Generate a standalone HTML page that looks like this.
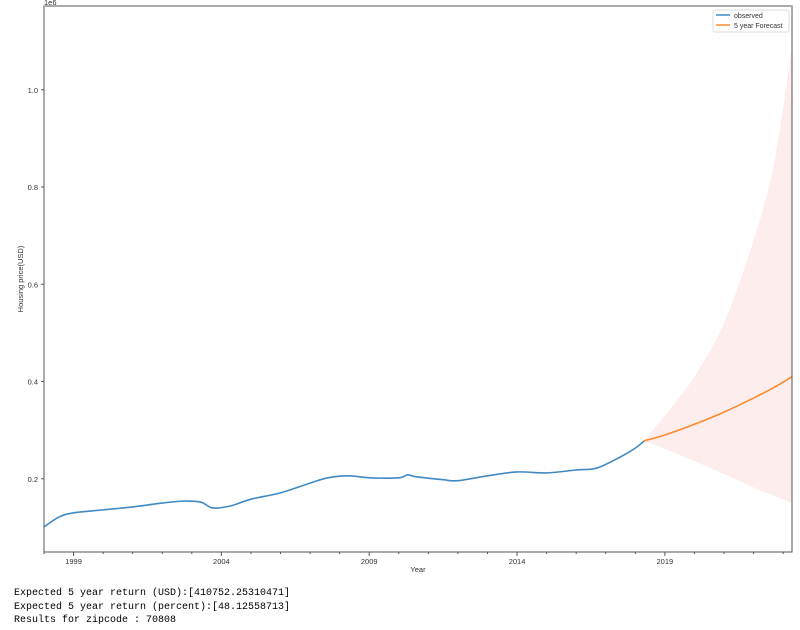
<!DOCTYPE html>
<html><head><meta charset="utf-8">
<style>
body{margin:0;background:#fff;width:800px;height:630px;overflow:hidden;font-family:"Liberation Sans",sans-serif}
svg{position:absolute;left:0;top:0}
.out{position:absolute;left:14px;font-family:"Liberation Mono","DejaVu Sans Mono",monospace;font-size:10px;color:#000;line-height:13px}
</style></head><body>
<svg id="chart" width="800" height="580"></svg>
<div class="out" style="top:587px">Expected 5 year return (USD):[410752.25310471]</div>
<div class="out" style="top:601px">Expected 5 year return (percent):[48.12558713]</div>
<div class="out" style="top:614px">Results for zipcode : 70808</div>
<script>
const obsYears=[1998.0,1998.5,1999,2000,2001,2002,2002.7,2003.3,2003.7,2004.3,2005,2006,2007,2007.6,2008.3,2009,2010,2010.3,2010.6,2011.5,2012,2013,2014,2015,2016,2016.7,2017.5,2018,2018.3];
const obsValues=[0.101,0.121,0.130,0.136,0.142,0.150,0.154,0.152,0.140,0.144,0.158,0.171,0.191,0.202,0.206,0.202,0.202,0.208,0.204,0.198,0.196,0.206,0.214,0.212,0.218,0.222,0.245,0.263,0.278];
const fcYears=[2018.3,2019,2020,2021,2022,2022.7,2023.3];
const fcValues=[0.278,0.290,0.312,0.337,0.366,0.388,0.410];
const ciUpper=[0.278,0.330,0.410,0.520,0.690,0.850,1.090];
const ciLower=[0.278,0.262,0.236,0.210,0.182,0.165,0.150];
const yTicks=[0.2,0.4,0.6,0.8,1.0];
const xTicks=[1999,2004,2009,2014,2019];

const L=44,R=792,T=6,B=552;
const x0=1998.0,x1=2023.3;
const X=y=>L+(y-x0)/(x1-x0)*(R-L);
const Y=v=>576-v*486.25;
const svg=document.getElementById('chart');
const NS='http://www.w3.org/2000/svg';
function mk(tag,attrs){const e=document.createElementNS(NS,tag);for(const k in attrs)e.setAttribute(k,attrs[k]);svg.appendChild(e);return e;}
function smooth(pts,start){
 let d=start?'M'+pts[0][0]+','+pts[0][1]:'L'+pts[0][0]+','+pts[0][1];
 for(let i=0;i<pts.length-1;i++){
  const p0=pts[i-1]||pts[i],p1=pts[i],p2=pts[i+1],p3=pts[i+2]||p2;
  const c1=[p1[0]+(p2[0]-p0[0])/6,p1[1]+(p2[1]-p0[1])/6];
  const c2=[p2[0]-(p3[0]-p1[0])/6,p2[1]-(p3[1]-p1[1])/6];
  d+='C'+c1+' '+c2+' '+p2;
 }
 return d;
}

const up=fcYears.map((y,i)=>[X(y),Y(ciUpper[i])]);
const lo=fcYears.map((y,i)=>[X(y),Y(ciLower[i])]).reverse();
let band=mk('path',{d:smooth(up,true)+smooth(lo,false)+'Z',fill:'#fdeded'});



let obs=mk('path',{d:smooth(obsYears.map((y,i)=>[X(y),Y(obsValues[i])]),true),fill:'none',stroke:'#3f8ac4','stroke-width':1.6});


let fc=mk('path',{d:smooth(fcYears.map((y,i)=>[X(y),Y(fcValues[i])]),true),fill:'none',stroke:'#ff8a2a','stroke-width':1.6});



let fr=mk('rect',{x:L,y:T,width:R-L,height:B-T,fill:'none',stroke:'#555','stroke-width':1});


mk('line',{x1:L,y1:T,x2:R,y2:T,stroke:'#aaa','stroke-width':2});

yTicks.forEach(v=>{
 mk('line',{x1:L-3,y1:Y(v),x2:L,y2:Y(v),stroke:'#555'});
 let t=mk('text',{x:L-6,y:Y(v)+3,'font-size':7.5,'text-anchor':'end',fill:'#333'});
 t.textContent=v.toFixed(1);
 
 
});
for(let yr=1998;yr<=2023;yr++){
 const major=xTicks.includes(yr);
 mk('line',{x1:X(yr),y1:B,x2:X(yr),y2:B+(major?4:2),stroke:'#555'});
}
xTicks.forEach(yr=>{
 let t=mk('text',{x:X(yr),y:B+12,'font-size':7.5,'text-anchor':'middle',fill:'#333'});
 t.textContent=yr;
 
 
});
let ex=mk('text',{x:L,y:5,'font-size':7.5,fill:'#333'});ex.textContent='1e6';


let xt=mk('text',{x:418,y:572,'font-size':7.5,'text-anchor':'middle',fill:'#333'});xt.textContent='Year';


let yt=mk('text',{x:0,y:0,'font-size':7.5,'text-anchor':'middle',fill:'#333',transform:'translate(23,279) rotate(-90)'});yt.textContent='Housing price(USD)';



let lg=mk('rect',{x:713,y:10,width:76,height:22,fill:'#fff',stroke:'#ddd',rx:2});


mk('line',{x1:716,y1:15,x2:730,y2:15,stroke:'#3f8ac4','stroke-width':1.5});
mk('line',{x1:716,y1:25,x2:730,y2:25,stroke:'#ff8a2a','stroke-width':1.5});
let l1=mk('text',{x:734,y:18,'font-size':7,fill:'#333'});l1.textContent='observed';


let l2=mk('text',{x:734,y:28,'font-size':7,fill:'#333'});l2.textContent='5 year Forecast';


</script>
</body></html>
